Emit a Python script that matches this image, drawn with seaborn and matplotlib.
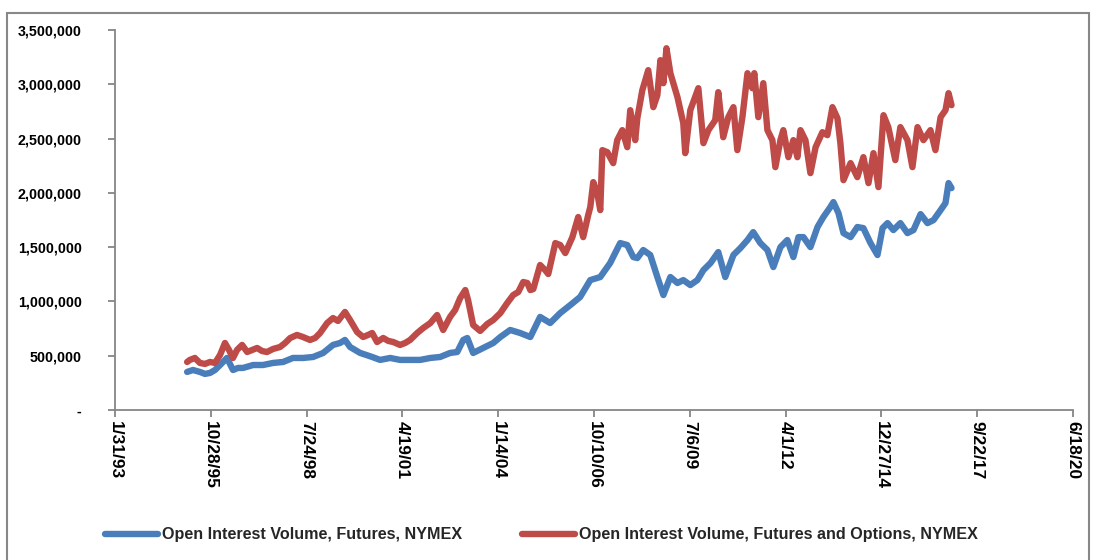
import matplotlib
matplotlib.use("Agg")
import matplotlib.pyplot as plt
from matplotlib.patches import Rectangle
from matplotlib.ticker import FuncFormatter, MultipleLocator
import pandas as pd
import seaborn as sns

# Open interest, futures only (NYMEX)
futures_dates = [
    "1995-02-22", "1995-04-24", "1995-07-06", "1995-08-27", "1995-10-19", "1995-12-10",
    "1996-02-01", "1996-04-13", "1996-06-15", "1996-08-07", "1996-09-28", "1997-01-11",
    "1997-04-24", "1997-08-07", "1997-11-20", "1998-03-03", "1998-06-16", "1998-09-29",
    "1999-01-12", "1999-04-25", "1999-07-07", "1999-08-28", "1999-10-20", "2000-02-03",
    "2000-04-05", "2000-06-07", "2000-08-29", "2000-12-12", "2001-03-25", "2001-07-08",
    "2001-10-21", "2002-02-04", "2002-05-17", "2002-08-29", "2002-11-12", "2003-01-14",
    "2003-02-25", "2003-04-27", "2003-08-10", "2003-11-23", "2004-02-05", "2004-05-18",
    "2004-08-30", "2004-12-14", "2005-03-26", "2005-07-09", "2005-10-22", "2006-02-05",
    "2006-05-18", "2006-09-01", "2006-12-14", "2007-03-27", "2007-07-10", "2007-09-22",
    "2007-11-24", "2008-01-05", "2008-03-07", "2008-05-19", "2008-08-01", "2008-10-03",
    "2008-12-15", "2009-02-27", "2009-04-29", "2009-07-11", "2009-09-23", "2009-11-25",
    "2010-02-07", "2010-04-29", "2010-07-11", "2010-10-04", "2010-12-16", "2011-02-28",
    "2011-04-29", "2011-07-12", "2011-09-24", "2011-11-25", "2012-02-07", "2012-04-19",
    "2012-06-21", "2012-08-13", "2012-10-04", "2012-12-16", "2013-02-28", "2013-04-30",
    "2013-07-12", "2013-08-13", "2013-10-05", "2013-11-26", "2014-02-08", "2014-04-20",
    "2014-06-22", "2014-09-04", "2014-11-16", "2015-01-08", "2015-03-01", "2015-05-01",
    "2015-07-13", "2015-09-25", "2015-11-27", "2016-02-09", "2016-04-21", "2016-06-23",
    "2016-09-05", "2016-10-26", "2016-11-27", "2016-12-28",
]
futures_oi = [
    350000, 368000, 350000, 332000, 341000, 368000,
    414000, 479000, 368000, 387000, 387000, 414000,
    414000, 433000, 442000, 479000, 479000, 488000,
    525000, 599000, 617000, 645000, 580000, 525000,
    507000, 488000, 461000, 479000, 461000, 461000,
    461000, 479000, 488000, 525000, 534000, 645000,
    663000, 525000, 571000, 617000, 672000, 737000,
    709000, 672000, 857000, 801000, 893000, 967000,
    1041000, 1197000, 1225000, 1354000, 1538000, 1520000,
    1409000, 1400000, 1474000, 1428000, 1225000, 1059000,
    1225000, 1170000, 1197000, 1151000, 1197000, 1289000,
    1354000, 1455000, 1225000, 1428000, 1492000, 1566000,
    1639000, 1538000, 1474000, 1317000, 1501000, 1566000,
    1409000, 1593000, 1593000, 1501000, 1686000, 1778000,
    1870000, 1916000, 1814000, 1630000, 1593000, 1686000,
    1676000, 1538000, 1428000, 1676000, 1722000, 1658000,
    1722000, 1630000, 1658000, 1805000, 1722000, 1750000,
    1842000, 1907000, 2091000, 2045000,
]

# Open interest, futures and options (NYMEX)
combined_dates = [
    "1995-02-22", "1995-03-23", "1995-05-14", "1995-07-06", "1995-08-27", "1995-10-19",
    "1995-12-10", "1996-02-01", "1996-03-23", "1996-05-04", "1996-06-15", "1996-07-27",
    "1996-09-18", "1996-11-10", "1997-01-01", "1997-02-22", "1997-04-14", "1997-06-05",
    "1997-08-07", "1997-10-19", "1997-12-11", "1998-02-02", "1998-04-14", "1998-06-16",
    "1998-08-28", "1998-10-20", "1998-12-11", "1999-02-23", "1999-04-25", "1999-06-16",
    "1999-08-28", "1999-10-20", "2000-01-02", "2000-03-04", "2000-04-25", "2000-06-07",
    "2000-07-28", "2000-09-30", "2000-11-22", "2001-01-13", "2001-03-25", "2001-05-17",
    "2001-07-08", "2001-09-20", "2001-11-22", "2002-02-04", "2002-04-16", "2002-06-18",
    "2002-08-29", "2002-10-21", "2002-12-13", "2003-02-04", "2003-03-05", "2003-04-27",
    "2003-07-09", "2003-09-21", "2003-11-23", "2004-02-05", "2004-04-17", "2004-06-18",
    "2004-08-10", "2004-10-01", "2004-11-13", "2004-12-14", "2005-01-14", "2005-03-26",
    "2005-05-18", "2005-06-19", "2005-09-01", "2005-10-22", "2005-12-14", "2006-02-26",
    "2006-04-28", "2006-06-19", "2006-08-10", "2006-09-01", "2006-10-02", "2006-11-13",
    "2006-12-14", "2007-01-05", "2007-02-26", "2007-04-28", "2007-06-09", "2007-08-01",
    "2007-09-22", "2007-10-23", "2007-12-14", "2008-01-05", "2008-02-26", "2008-04-28",
    "2008-06-20", "2008-08-01", "2008-09-02", "2008-10-03", "2008-11-04", "2008-12-15",
    "2009-02-27", "2009-04-29", "2009-05-19", "2009-07-11", "2009-10-03", "2009-11-25",
    "2010-01-16", "2010-03-28", "2010-04-29", "2010-06-20", "2010-08-12", "2010-10-04",
    "2010-11-14", "2011-01-06", "2011-02-28", "2011-04-19", "2011-05-10", "2011-06-21",
    "2011-08-12", "2011-09-24", "2011-11-15", "2011-12-16", "2012-02-07", "2012-03-08",
    "2012-04-30", "2012-06-21", "2012-08-02", "2012-09-03", "2012-10-25", "2012-12-16",
    "2013-02-08", "2013-04-20", "2013-06-11", "2013-08-03", "2013-09-24", "2013-10-25",
    "2013-11-26", "2014-02-08", "2014-04-20", "2014-06-22", "2014-08-14", "2014-10-05",
    "2014-11-26", "2015-01-18", "2015-03-09", "2015-05-21", "2015-07-13", "2015-09-25",
    "2015-11-16", "2016-01-08", "2016-03-10", "2016-05-22", "2016-07-13", "2016-09-05",
    "2016-10-26", "2016-11-27", "2016-12-28",
]
combined_oi = [
    442000, 461000, 479000, 433000, 424000, 442000,
    433000, 507000, 617000, 553000, 479000, 553000,
    599000, 534000, 553000, 571000, 543000, 534000,
    562000, 580000, 617000, 663000, 691000, 672000,
    645000, 663000, 709000, 801000, 847000, 820000,
    903000, 829000, 718000, 672000, 691000, 709000,
    626000, 663000, 636000, 626000, 599000, 617000,
    645000, 709000, 755000, 801000, 875000, 737000,
    857000, 921000, 1032000, 1105000, 1013000, 783000,
    728000, 792000, 829000, 893000, 986000, 1059000,
    1087000, 1179000, 1170000, 1105000, 1114000, 1336000,
    1289000, 1253000, 1538000, 1520000, 1446000, 1593000,
    1778000, 1593000, 1796000, 1870000, 2100000, 1999000,
    1842000, 2395000, 2376000, 2275000, 2487000, 2579000,
    2422000, 2763000, 2487000, 2689000, 2947000, 3132000,
    2791000, 2901000, 3224000, 3012000, 3334000, 3104000,
    2883000, 2643000, 2367000, 2763000, 2966000, 2459000,
    2579000, 2671000, 2929000, 2514000, 2699000, 2791000,
    2395000, 2699000, 3104000, 2966000, 3104000, 2699000,
    3012000, 2579000, 2487000, 2238000, 2487000, 2579000,
    2330000, 2487000, 2330000, 2579000, 2487000, 2183000,
    2422000, 2560000, 2533000, 2791000, 2689000, 2459000,
    2118000, 2275000, 2146000, 2330000, 2091000, 2367000,
    2054000, 2717000, 2607000, 2303000, 2607000, 2487000,
    2238000, 2607000, 2487000, 2579000, 2395000, 2699000,
    2763000, 2920000, 2809000,
]

series_labels = [
    "Open Interest Volume, Futures, NYMEX",
    "Open Interest Volume, Futures and Options, NYMEX",
]
series_colors = ["#4A7EBB", "#BE4B48"]

x_start, x_end = "1993-01-31", "2020-06-18"
y_max = 3500000

sns.set_theme(style="white")
plt.rcParams["font.family"] = ["Liberation Sans", "DejaVu Sans"]
plt.rcParams["font.weight"] = "bold"

futures = pd.DataFrame({"date": pd.to_datetime(futures_dates), "oi": futures_oi})
combined = pd.DataFrame({"date": pd.to_datetime(combined_dates), "oi": combined_oi})

fig = plt.figure(figsize=(10.96, 5.6), dpi=100)
ax = fig.add_axes([0.105, 0.268, 0.874, 0.678])

for df, color, label in zip([futures, combined], series_colors, series_labels):
    sns.lineplot(data=df, x="date", y="oi", ax=ax, color=color, lw=4.6,
                 label=label, legend=False, solid_joinstyle="round",
                 solid_capstyle="round")

ax.set_xlim(pd.Timestamp(x_start), pd.Timestamp(x_end))
ax.set_ylim(0, y_max)

tick_dates = pd.date_range(x_start, periods=11, freq="1000D")
ax.set_xticks(tick_dates)
ax.set_xticklabels([f"{d.month}/{d.day}/{d:%y}" for d in tick_dates],
                   rotation=-90, fontsize=12.5, fontweight="bold")

ax.yaxis.set_major_locator(MultipleLocator(500000))
ax.yaxis.set_major_formatter(
    FuncFormatter(lambda v, _: "-" if v == 0 else f"{v:,.0f}"))
for lab in ax.get_yticklabels():
    lab.set_fontweight("bold")
    lab.set_fontsize(10.3)

ax.set_xlabel("")
ax.set_ylabel("")
ax.grid(False)
for side in ["top", "right"]:
    ax.spines[side].set_visible(False)
for side in ["left", "bottom"]:
    ax.spines[side].set_color("#868686")
    ax.spines[side].set_linewidth(1.3)
ax.tick_params(axis="both", which="major", direction="out", length=5,
               width=1.3, color="#868686", labelcolor="black",
               bottom=True, left=True)
ax.tick_params(axis="y", pad=19)
ax.tick_params(axis="x", pad=3)

handles = ax.get_lines()[:2]
fig.legend(handles, series_labels, loc="center", bbox_to_anchor=(0.494, 0.045),
           ncol=2, frameon=False, handlelength=3.3, handletextpad=0.25,
           columnspacing=3.7, prop={"weight": "bold", "size": 11.6})

# chart frame (clipped at the bottom like the source image)
fig.patches.append(Rectangle((7 / 1096, -0.1), 1082 / 1096, 1.1 - 13 / 560,
                             transform=fig.transFigure, fill=False,
                             edgecolor="#888888", lw=1.5))

fig.savefig("out.png", dpi=100)
